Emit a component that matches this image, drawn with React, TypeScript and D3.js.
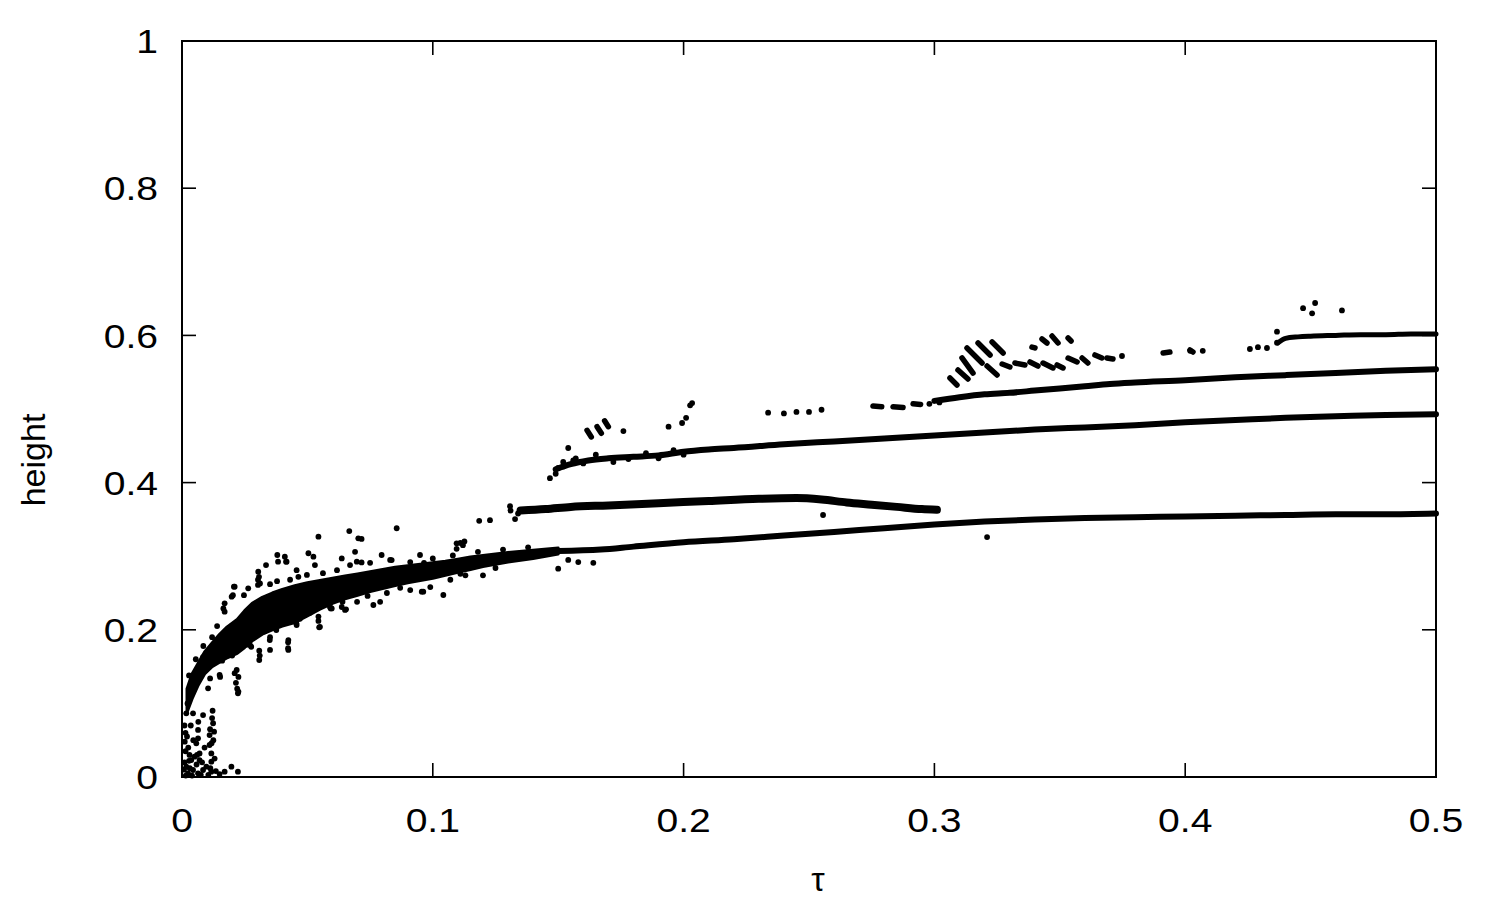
import React from "react";
import * as d3 from "d3";

const W = 1500;
const H = 900;

const xTicks = [0, 0.1, 0.2, 0.3, 0.4, 0.5];
const xTickLabels = ["0", "0.1", "0.2", "0.3", "0.4", "0.5"];
const yTicks = [0, 0.2, 0.4, 0.6, 0.8, 1];
const yTickLabels = ["0", "0.2", "0.4", "0.6", "0.8", "1"];

// noisy band at small tau: [tau, lower, upper]
const bandTau = [0.002, 0.004, 0.0065, 0.009, 0.012, 0.015, 0.018, 0.022, 0.025, 0.028, 0.032, 0.036, 0.04, 0.045, 0.05, 0.055, 0.06, 0.065, 0.07, 0.075, 0.08, 0.085, 0.09, 0.095, 0.1, 0.105, 0.11, 0.115, 0.12, 0.13, 0.14, 0.15];
const bandLow = [0.088, 0.106, 0.125, 0.14, 0.15, 0.156, 0.162, 0.168, 0.176, 0.185, 0.194, 0.2, 0.205, 0.21, 0.219, 0.228, 0.236, 0.242, 0.247, 0.252, 0.256, 0.26, 0.264, 0.267, 0.27, 0.274, 0.278, 0.282, 0.286, 0.292, 0.297, 0.303];
const bandHigh = [0.12, 0.14, 0.155, 0.17, 0.182, 0.194, 0.204, 0.214, 0.226, 0.236, 0.244, 0.25, 0.255, 0.26, 0.264, 0.267, 0.27, 0.273, 0.276, 0.279, 0.282, 0.285, 0.287, 0.289, 0.291, 0.293, 0.296, 0.299, 0.301, 0.305, 0.308, 0.311];

// dense branches [tau, height]
const branchA = [[0.15, 0.307], [0.167, 0.309], [0.18, 0.313], [0.2, 0.319], [0.22, 0.323], [0.24, 0.328], [0.26, 0.333], [0.28, 0.338], [0.3, 0.343], [0.32, 0.347], [0.34, 0.35], [0.36, 0.352], [0.38, 0.353], [0.4, 0.354], [0.42, 0.355], [0.44, 0.356], [0.46, 0.357], [0.48, 0.357], [0.5, 0.358]];
const branchB = [[0.135, 0.362], [0.145, 0.364], [0.155, 0.367], [0.17, 0.369], [0.19, 0.372], [0.21, 0.375], [0.23, 0.378], [0.245, 0.379], [0.255, 0.377], [0.265, 0.373], [0.275, 0.37], [0.285, 0.367], [0.295, 0.364], [0.301, 0.363]];
const branchC = [[0.149, 0.418], [0.155, 0.425], [0.162, 0.43], [0.17, 0.433], [0.18, 0.435], [0.19, 0.437], [0.2, 0.442], [0.21, 0.445], [0.22, 0.447], [0.24, 0.452], [0.26, 0.456], [0.28, 0.46], [0.3, 0.464], [0.32, 0.468], [0.34, 0.472], [0.36, 0.475], [0.38, 0.478], [0.4, 0.482], [0.42, 0.485], [0.44, 0.488], [0.46, 0.49], [0.48, 0.492], [0.5, 0.493]];
const branchD = [[0.3, 0.511], [0.31, 0.516], [0.32, 0.52], [0.33, 0.522], [0.34, 0.525], [0.35, 0.528], [0.36, 0.531], [0.37, 0.534], [0.38, 0.536], [0.4, 0.539], [0.42, 0.543], [0.44, 0.546], [0.46, 0.549], [0.48, 0.552], [0.5, 0.554]];
const branchE = [[0.437, 0.59], [0.44, 0.596], [0.445, 0.598], [0.45, 0.599], [0.46, 0.6], [0.47, 0.601], [0.48, 0.601], [0.49, 0.602], [0.5, 0.602]];

// short streaks of consecutive points: [tau1, h1, tau2, h2]
const streaks = [
  [0.1615, 0.471, 0.1632, 0.462], [0.1655, 0.476, 0.1672, 0.467], [0.1685, 0.484, 0.17, 0.476],
  [0.3062, 0.5421, 0.309, 0.5326], [0.3094, 0.553, 0.3134, 0.5408], [0.311, 0.5693, 0.3154, 0.5489],
  [0.313, 0.5829, 0.319, 0.5625], [0.3174, 0.5897, 0.3222, 0.5734], [0.323, 0.591, 0.3274, 0.5761],
  [0.321, 0.5584, 0.325, 0.5462], [0.327, 0.5611, 0.3301, 0.5571], [0.3321, 0.5625, 0.3361, 0.5598],
  [0.3381, 0.5639, 0.3413, 0.5584], [0.3433, 0.5625, 0.3473, 0.5557], [0.3489, 0.5598, 0.3513, 0.5557],
  [0.3533, 0.5693, 0.3569, 0.5639], [0.3589, 0.5693, 0.3612, 0.5625], [0.364, 0.5734, 0.3668, 0.5693],
  [0.3688, 0.5693, 0.3712, 0.5679], [0.3912, 0.5761, 0.3939, 0.5774], [0.4019, 0.5802, 0.4031, 0.5774],
  [0.3389, 0.5842, 0.3401, 0.5829], [0.3429, 0.5951, 0.3449, 0.5897], [0.3469, 0.5992, 0.3493, 0.5897],
  [0.3533, 0.5965, 0.3545, 0.5924], [0.2755, 0.504, 0.279, 0.503], [0.2835, 0.503, 0.2875, 0.502],
  [0.2915, 0.507, 0.2945, 0.506]
];

// isolated points [tau, height]
const scatterPts = [
  // near zero
  [0.0011, 0.048], [0.0017, 0.0865], [0.0044, 0.0865], [0.0084, 0.0842], [0.0064, 0.0639], [0.0064, 0.0526],
  [0.011, 0.057], [0.011, 0.0435], [0.0117, 0.032], [0.0117, 0.0208], [0.0124, 0.073], [0.0128, 0.0616],
  [0.007, 0.032], [0.007, 0.023], [0.0037, 0.023], [0.0017, 0.014], [0.0024, 0.005], [0.0044, 0.0095],
  [0.0064, 0.005], [0.0084, 0.0095], [0.0117, 0.0072], [0.017, 0.0072], [0.0197, 0.014], [0.0223, 0.0072],
  [0.005, 0.0276], [0.0097, 0.014], [0.0057, 0.0458], [0.003, 0.03], [0.0015, 0.002], [0.004, 0.002],
  [0.0075, 0.003], [0.0105, 0.003], [0.0014, 0.035], [0.0014, 0.06], [0.0118, 0.046], [0.0122, 0.09],
  [0.0113, 0.012], [0.0058, 0.017], [0.0031, 0.012], [0.001, 0.07], [0.001, 0.02], [0.002, 0.055],
  [0.0025, 0.04], [0.0045, 0.05], [0.006, 0.03], [0.008, 0.02], [0.009, 0.04], [0.0112, 0.065],
  [0.012, 0.08], [0.0125, 0.05], [0.013, 0.025], [0.0135, 0.008], [0.015, 0.004], [0.0065, 0.075],
  [0.0035, 0.07], [0.0022, 0.1], [0.0008, 0.01], [0.0028, 0.022],
  // below band
  [0.0271, 0.1793], [0.0308, 0.1716], [0.0308, 0.159], [0.0351, 0.1726], [0.0351, 0.19], [0.0424, 0.186],
  [0.0424, 0.1726], [0.0457, 0.2065], [0.0544, 0.218], [0.055, 0.204], [0.0597, 0.229], [0.0637, 0.231],
  [0.065, 0.227], [0.0763, 0.2337], [0.079, 0.238], [0.0962, 0.2518], [0.1042, 0.2473], [0.0218, 0.1454],
  [0.0225, 0.136], [0.0225, 0.116], [0.0152, 0.136], [0.0118, 0.1567], [0.0112, 0.134], [0.021, 0.141],
  [0.0215, 0.128], [0.022, 0.12], [0.0223, 0.1137], [0.015, 0.1386], [0.0104, 0.1205], [0.031, 0.165],
  [0.035, 0.186], [0.0376, 0.1997], [0.0423, 0.1749], [0.0423, 0.183], [0.0456, 0.2088], [0.0276, 0.177],
  [0.0547, 0.2034], [0.0544, 0.212], [0.0654, 0.2278], [0.0593, 0.229], [0.0956, 0.2518],
  [0.0084, 0.163], [0.0124, 0.1766], [0.018, 0.19], [0.0231, 0.196], [0.0283, 0.209], [0.0351, 0.213],
  [0.0419, 0.217], [0.051, 0.223], [0.059, 0.231], [0.0698, 0.238], [0.0817, 0.25], [0.091, 0.254],
  [0.099, 0.258], [0.107, 0.268], [0.016, 0.158], [0.02, 0.165], [0.026, 0.18], [0.033, 0.198],
  [0.047, 0.215], [0.064, 0.238], [0.074, 0.246], [0.087, 0.257], [0.113, 0.274], [0.125, 0.284],
  // above band
  [0.0544, 0.3265], [0.0667, 0.3342], [0.0703, 0.3243], [0.0716, 0.3235], [0.0856, 0.338], [0.1095, 0.3175],
  [0.112, 0.315], [0.111, 0.318], [0.1126, 0.32], [0.038, 0.3016], [0.041, 0.2994], [0.0417, 0.2925],
  [0.0504, 0.304], [0.0524, 0.2994], [0.053, 0.288], [0.0304, 0.279], [0.0307, 0.272], [0.0335, 0.288],
  [0.0383, 0.2925], [0.0415, 0.2925], [0.0457, 0.281], [0.0464, 0.272], [0.0637, 0.297], [0.069, 0.306],
  [0.0697, 0.2925], [0.0716, 0.2915], [0.0796, 0.3016], [0.0836, 0.2948], [0.0949, 0.3016], [0.0965, 0.291],
  [0.1009, 0.29], [0.1095, 0.31], [0.0207, 0.2586], [0.0198, 0.245], [0.0165, 0.229], [0.0264, 0.2564],
  [0.0311, 0.263], [0.0303, 0.261], [0.021, 0.2586], [0.017, 0.2246], [0.017, 0.236], [0.0028, 0.138],
  [0.0055, 0.16], [0.0085, 0.178], [0.012, 0.19], [0.014, 0.205],
  [0.0203, 0.247], [0.0247, 0.247], [0.0303, 0.268], [0.0351, 0.262], [0.0379, 0.266], [0.0431, 0.268],
  [0.0498, 0.2745], [0.0562, 0.277], [0.0618, 0.281], [0.067, 0.288], [0.075, 0.291], [0.083, 0.295],
  [0.091, 0.292], [0.1, 0.297], [0.108, 0.301], [0.118, 0.306], [0.128, 0.309], [0.138, 0.312],
  // branch starts and outliers
  [0.1185, 0.348], [0.1228, 0.349], [0.1308, 0.368], [0.131, 0.362], [0.1328, 0.3505], [0.134, 0.358],
  [0.15, 0.283], [0.154, 0.295], [0.158, 0.292], [0.164, 0.291], [0.2556, 0.356], [0.321, 0.326],
  [0.12, 0.274], [0.111, 0.276],
  [0.1467, 0.406], [0.149, 0.412], [0.154, 0.447], [0.152, 0.422], [0.156, 0.43], [0.176, 0.47],
  [0.194, 0.476], [0.1994, 0.481], [0.2026, 0.505], [0.2034, 0.508], [0.201, 0.488],
  [0.2337, 0.495], [0.24, 0.494], [0.245, 0.496], [0.25, 0.496], [0.255, 0.499],
  [0.15, 0.42], [0.152, 0.428], [0.157, 0.433], [0.16, 0.426], [0.165, 0.438], [0.172, 0.428],
  [0.178, 0.432], [0.185, 0.44], [0.19, 0.433], [0.196, 0.444], [0.2, 0.438],
  [0.298, 0.507], [0.302, 0.509],
  [0.402, 0.579], [0.407, 0.579], [0.4258, 0.5815], [0.429, 0.584], [0.4326, 0.5829],
  [0.4366, 0.605], [0.4366, 0.59], [0.447, 0.637], [0.4518, 0.644], [0.4506, 0.63], [0.4625, 0.634],
  [0.3748, 0.572]
];

const x = d3.scaleLinear().domain([0, 0.5]).range([182, 1436]);
const y = d3.scaleLinear().domain([0, 1]).range([777, 41]);

const FONT = "'Liberation Sans', Arial, Helvetica, sans-serif";

export default function App() {
  const line = d3
    .line<number[]>()
    .x((d) => x(d[0]))
    .y((d) => y(d[1]))
    .curve(d3.curveMonotoneX);
  const bandData = bandTau.map((t, i) => [t, bandLow[i], bandHigh[i]]);
  const area = d3
    .area<number[]>()
    .x((d) => x(d[0]))
    .y0((d) => y(d[1]))
    .y1((d) => y(d[2]))
    .curve(d3.curveLinear);

  const branches = [
    { d: branchA, w: 6 },
    { d: branchB, w: 8 },
    { d: branchC, w: 6 },
    { d: branchD, w: 6 },
    { d: branchE, w: 5 },
  ];

  return (
    <svg
      width={W}
      height={H}
      style={{ position: "absolute", left: 0, top: 0, background: "#fff" }}
      fontFamily={FONT}
    >
      <rect x={0} y={0} width={W} height={H} fill="#fff" />
      <g>
        <path d={area(bandData) || ""} fill="#000" stroke="#000" strokeWidth={3} strokeLinejoin="round" />
        {branches.map((b, i) => (
          <path
            key={i}
            d={line(b.d) || ""}
            fill="none"
            stroke="#000"
            strokeWidth={b.w}
            strokeLinecap="round"
            strokeLinejoin="round"
          />
        ))}
        {streaks.map((s, i) => (
          <line
            key={i}
            x1={x(s[0])}
            y1={y(s[1])}
            x2={x(s[2])}
            y2={y(s[3])}
            stroke="#000"
            strokeWidth={5.5}
            strokeLinecap="round"
          />
        ))}
        {scatterPts.map((p, i) => (
          <circle key={i} cx={x(p[0])} cy={y(p[1])} r={2.9} fill="#000" />
        ))}
      </g>
      <rect x={182} y={41} width={1436 - 182} height={777 - 41} fill="none" stroke="#000" strokeWidth={2} />
      {yTicks.map((t, i) => (
        <g key={"y" + i}>
          <line x1={182} x2={196} y1={y(t)} y2={y(t)} stroke="#000" strokeWidth={1.6} />
          <line x1={1436} x2={1422} y1={y(t)} y2={y(t)} stroke="#000" strokeWidth={1.6} />
          <text
            transform={`translate(158,${y(t)}) scale(1.15,1)`}
            textAnchor="end"
            dy="0.36em"
            fontSize={34}
            fill="#000"
          >
            {yTickLabels[i]}
          </text>
        </g>
      ))}
      {xTicks.map((t, i) => (
        <g key={"x" + i}>
          <line x1={x(t)} x2={x(t)} y1={777} y2={763} stroke="#000" strokeWidth={1.6} />
          <line x1={x(t)} x2={x(t)} y1={41} y2={55} stroke="#000" strokeWidth={1.6} />
          <text
            transform={`translate(${x(t)},832) scale(1.15,1)`}
            textAnchor="middle"
            fontSize={34}
            fill="#000"
          >
            {xTickLabels[i]}
          </text>
        </g>
      ))}
      <text transform="translate(45,460) rotate(-90)" textAnchor="middle" fontSize={34} fill="#000">
        height
      </text>
      <text x={818} y={891} textAnchor="middle" fontSize={34} fill="#000">
        τ
      </text>
    </svg>
  );
}
